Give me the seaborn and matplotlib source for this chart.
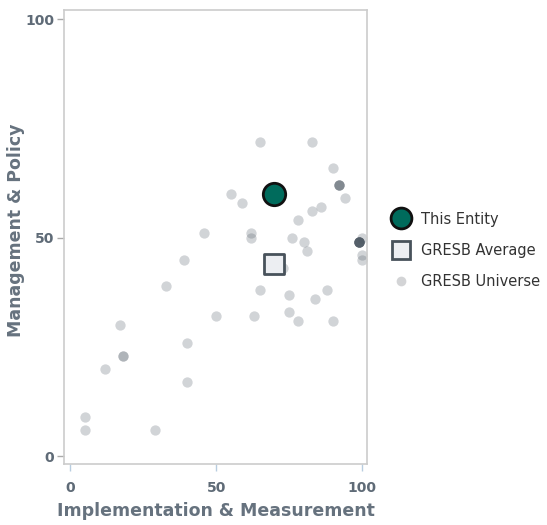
import numpy as np
import pandas as pd
import matplotlib
matplotlib.use("Agg")
import matplotlib.pyplot as plt
import seaborn as sns
from matplotlib.lines import Line2D

# GRESB universe (count = how many entities sit on the same spot)
universe_x = [65, 83, 90, 92, 94, 55, 59, 86, 83, 78, 46, 62, 62, 76, 80, 81, 99, 100, 100, 100,
              39, 73, 33, 65, 75, 88, 84, 50, 63, 75, 78, 90, 17, 40, 18, 12, 40, 5, 5, 29]
universe_y = [72, 72, 66, 62, 59, 60, 58, 57, 56, 54, 51, 51, 50, 50, 49, 47, 49, 50, 46, 45,
              45, 43, 39, 38, 37, 38, 36, 32, 32, 33, 31, 31, 30, 26, 23, 20, 17, 9, 6, 6]
universe_count = [1, 1, 1, 4, 1, 1, 1, 1, 1, 1, 1, 1, 1, 1, 1, 1, 9, 1, 1, 1,
                  1, 1, 1, 1, 1, 1, 1, 1, 1, 1, 1, 1, 1, 1, 2, 1, 1, 1, 1, 1]

entity_x, entity_y = [70], [60]
average_x, average_y = [70], [44]

x_label = "Implementation & Measurement"
y_label = "Management & Policy"
legend_labels = ["This Entity", "GRESB Average", "GRESB Universe"]

uni = pd.DataFrame({"x": np.repeat(universe_x, universe_count),
                    "y": np.repeat(universe_y, universe_count)})
ent = pd.DataFrame({"x": entity_x, "y": entity_y})
avg = pd.DataFrame({"x": average_x, "y": average_y})

sns.set_style("white")
plt.rcParams["font.family"] = ["DejaVu Sans"]

fig = plt.figure(figsize=(5.47, 5.25), dpi=100)
ax = fig.add_axes([0.117, 0.116, 0.554, 0.865])

sns.scatterplot(data=uni, x="x", y="y", ax=ax, color="#4a5560", alpha=0.25,
                s=55, linewidth=0, legend=False)
sns.scatterplot(data=avg, x="x", y="y", ax=ax, marker="s", color="#eceef2",
                edgecolor="#48525b", linewidth=2, s=200, legend=False, zorder=4)
sns.scatterplot(data=ent, x="x", y="y", ax=ax, marker="o", color="#006b5c",
                edgecolor="#111111", linewidth=2, s=260, legend=False, zorder=5)

ax.set_xlim(-2.1, 101.7)
ax.set_ylim(-1.8, 102.1)
ax.set_xticks([0, 50, 100])
ax.set_yticks([0, 50, 100])
for sp in ax.spines.values():
    sp.set_color("#cccccc")
    sp.set_linewidth(1.2)
ax.tick_params(axis="x", length=5, width=1, color="#b8cde0", pad=7,
               labelsize=10, labelcolor="#5f6b77", bottom=True)
ax.tick_params(axis="y", length=5, width=1, color="#aaaaaa", pad=2,
               labelsize=10, labelcolor="#5f6b77", left=True)
for t in ax.get_xticklabels() + ax.get_yticklabels():
    t.set_fontweight("bold")
ax.set_xlabel(x_label, fontsize=12.5, fontweight="bold", color="#66727e")
ax.set_ylabel(y_label, fontsize=12.5, fontweight="bold", color="#66727e")
ax.xaxis.set_label_coords(0.5, -0.084)
ax.yaxis.set_label_coords(-0.13, 0.515)

handles = [
    Line2D([], [], marker="o", linestyle="", markersize=15, markerfacecolor="#006b5c",
           markeredgecolor="#111111", markeredgewidth=2),
    Line2D([], [], marker="s", linestyle="", markersize=13, markerfacecolor="#eceef2",
           markeredgecolor="#48525b", markeredgewidth=2),
    Line2D([], [], marker="o", linestyle="", markersize=7, markerfacecolor="#d3d4d6",
           markeredgewidth=0),
]
fig.legend(handles, legend_labels, loc="upper left", bbox_to_anchor=(0.693, 0.622),
           frameon=False, fontsize=10.5, handletextpad=0.75, labelspacing=1.1,
           labelcolor="#333333", handlelength=1.2)

fig.savefig("out.png", dpi=100)
